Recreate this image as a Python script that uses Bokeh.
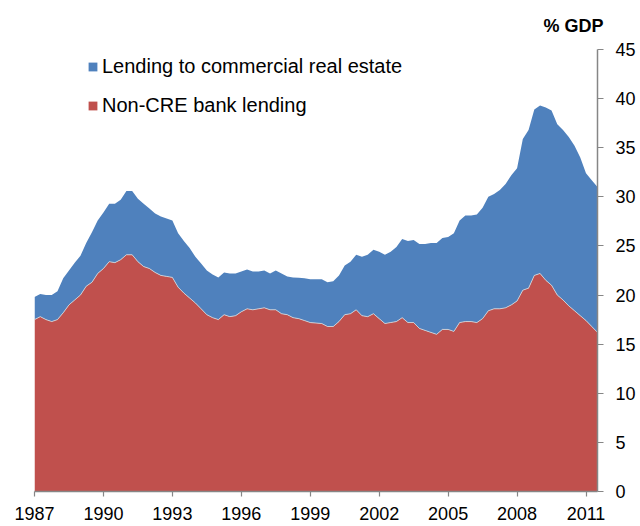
from bokeh.plotting import figure
from bokeh.models import (Range1d, LinearAxis, FixedTicker, Legend, LegendItem,
                          ColumnDataSource)
from bokeh.embed import file_html
from bokeh.resources import INLINE

# Quarterly data, 1987Q1 .. 2011Q3, % of GDP
start_year = 1987
non_cre = [
    17.5, 17.8, 17.5, 17.3,   # 1987
    17.5, 18.2, 19.0, 19.5,   # 1988
    20.0, 20.9, 21.3, 22.2,   # 1989
    22.7, 23.4, 23.3, 23.6,   # 1990
    24.1, 24.1, 23.4, 22.9,   # 1991
    22.7, 22.3, 22.0, 21.9,   # 1992
    21.8, 20.8, 20.2, 19.7,   # 1993
    19.2, 18.6, 18.0, 17.7,   # 1994
    17.5, 18.0, 17.8, 17.9,   # 1995
    18.3, 18.6, 18.5, 18.6,   # 1996
    18.7, 18.5, 18.5, 18.1,   # 1997
    18.0, 17.7, 17.6, 17.4,   # 1998
    17.2, 17.15, 17.1, 16.8,  # 1999
    16.8, 17.3, 18.0, 18.1,   # 2000
    18.5, 17.9, 17.8, 18.1,   # 2001
    17.6, 17.1, 17.2, 17.3,   # 2002
    17.7, 17.2, 17.2, 16.6,   # 2003
    16.4, 16.2, 16.0, 16.5,   # 2004
    16.5, 16.3, 17.2, 17.3,   # 2005
    17.3, 17.2, 17.6, 18.4,   # 2006
    18.6, 18.6, 18.7, 19.0,   # 2007
    19.4, 20.5, 20.7, 22.0,   # 2008
    22.2, 21.5, 21.0, 20.0,   # 2009
    19.5, 18.9, 18.4, 17.9,   # 2010
    17.4, 16.8, 16.2,         # 2011
]
cre = [
    2.3, 2.3, 2.5, 2.7,       # 1987
    2.9, 3.5, 3.5, 3.8,       # 1988
    4.0, 4.4, 5.1, 5.4,       # 1989
    5.7, 5.9, 6.0, 6.1,       # 1990
    6.5, 6.5, 6.4, 6.4,       # 1991
    6.1, 6.0, 6.0, 5.9,       # 1992
    5.8, 5.5, 5.3, 5.1,       # 1993
    4.7, 4.6, 4.5, 4.4,       # 1994
    4.3, 4.3, 4.4, 4.3,       # 1995
    4.1, 4.0, 3.9, 3.8,       # 1996
    3.8, 3.7, 4.0, 4.1,       # 1997
    3.9, 4.1, 4.15, 4.3,      # 1998
    4.4, 4.45, 4.5, 4.5,      # 1999
    4.6, 4.7, 5.0, 5.3,       # 2000
    5.6, 6.0, 6.3, 6.5,       # 2001
    6.8, 7.0, 7.2, 7.6,       # 2002
    8.0, 8.3, 8.4, 8.6,       # 2003
    8.8, 9.1, 9.3, 9.3,       # 2004
    9.4, 10.0, 10.4, 10.8,    # 2005
    10.8, 11.0, 11.3, 11.6,   # 2006
    11.7, 12.1, 12.6, 13.2,   # 2007
    13.5, 15.4, 16.1, 16.9,   # 2008
    17.1, 17.6, 17.8, 17.4,   # 2009
    17.3, 17.2, 16.8, 16.1,   # 2010
    15.0, 14.9, 14.8,         # 2011
]
x_ticks = [1987, 1990, 1993, 1996, 1999, 2002, 2005, 2008, 2011]
y_ticks = [0, 5, 10, 15, 20, 25, 30, 35, 40, 45]
series_names = ["Lending to commercial real estate", "Non-CRE bank lending"]
unit_label = "% GDP"

BLUE = "#4F81BD"
RED = "#C0504D"
AXIS = "#868686"
FONT = "Liberation Sans"

years = [start_year + q / 4 for q in range(len(non_cre))]
src = ColumnDataSource(dict(x=years, non_cre=non_cre, cre=cre))

p = figure(width=638, height=526, output_backend="svg", toolbar_location=None,
           x_range=Range1d(start_year, years[-1]), y_range=Range1d(0, 45),
           min_border_left=34, min_border_right=39, min_border_top=49,
           min_border_bottom=35, y_axis_location=None,
           title=unit_label, title_location="above")
p.outline_line_color = None
p.background_fill_color = "white"
p.xgrid.visible = False
p.ygrid.visible = False

p.title.align = "right"
p.title.vertical_align = "top"
p.title.text_font = FONT
p.title.text_font_size = "18px"
p.title.text_font_style = "bold"
p.title.text_color = "black"
p.title.standoff = 24
p.title.offset = -6

rs = p.varea_stack(stackers=["non_cre", "cre"], x="x", source=src,
                   color=[RED, BLUE])
p.line(x="x", y="non_cre", source=src, line_color="#dcdcdc", line_width=0.8)

xa = p.xaxis[0]
xa.ticker = FixedTicker(ticks=x_ticks)
xa.axis_line_color = AXIS
xa.axis_line_width = 1.5
xa.major_tick_line_color = AXIS
xa.major_tick_line_width = 1.2
xa.major_tick_out = 5
xa.major_tick_in = 0
xa.minor_tick_line_color = None
xa.major_label_standoff = 10
xa.major_label_text_font = FONT
xa.major_label_text_font_size = "18px"
xa.major_label_text_color = "black"

ya = LinearAxis(ticker=FixedTicker(ticks=y_ticks))
ya.axis_line_color = AXIS
ya.axis_line_width = 1.5
ya.major_tick_line_color = AXIS
ya.major_tick_line_width = 1.2
ya.major_tick_out = 6
ya.major_tick_in = 0
ya.minor_tick_line_color = None
ya.major_label_standoff = 12
ya.major_label_text_font = FONT
ya.major_label_text_font_size = "18px"
ya.major_label_text_color = "black"
p.add_layout(ya, "right")

legend = Legend(items=[LegendItem(label=series_names[0], renderers=[rs[1]]),
                       LegendItem(label=series_names[1], renderers=[rs[0]])],
                location=(53, 374), orientation="vertical",
                glyph_width=11, glyph_height=11, label_height=22,
                spacing=16, padding=0, margin=0, label_standoff=4,
                label_text_font=FONT, label_text_font_size="20px",
                label_text_color="black", border_line_color=None,
                background_fill_alpha=0)
p.add_layout(legend, "center")

open("out.html", "w").write(file_html(p, INLINE))
